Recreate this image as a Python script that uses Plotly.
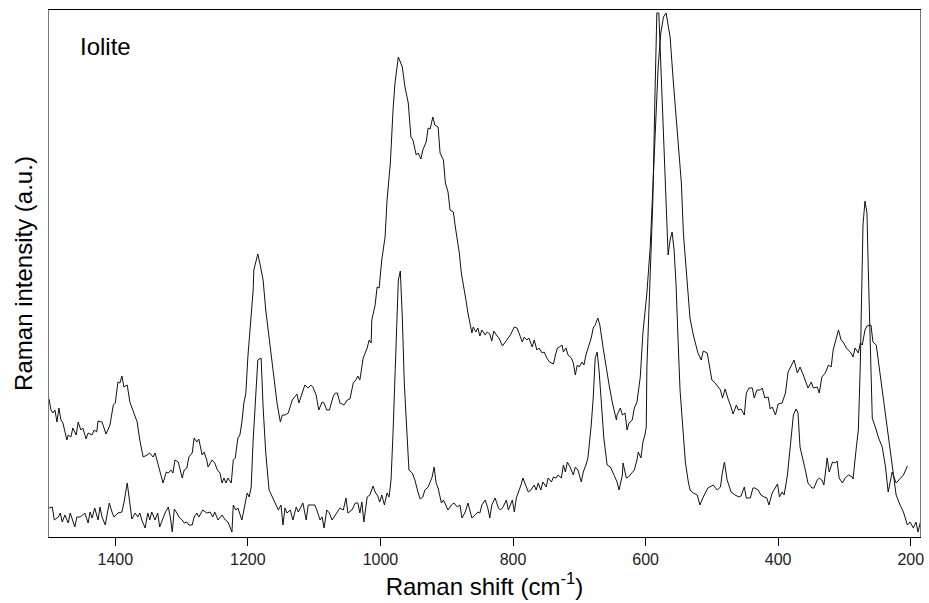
import plotly.graph_objects as go

# Raman shift (cm-1) and intensity (a.u.)
shift_upper = [1500, 1497, 1494, 1491, 1488, 1485, 1482, 1479, 1473, 1471, 1467, 1464, 1459, 1456, 1452,
               1449, 1444, 1441, 1435, 1432, 1428, 1426, 1420, 1414, 1408, 1403, 1400, 1396, 1393, 1390,
               1387, 1382, 1378, 1375, 1367, 1363, 1358, 1352, 1348, 1343, 1340, 1336, 1333, 1328, 1323,
               1320, 1316, 1313, 1310, 1305, 1299, 1296, 1292, 1289, 1284, 1281, 1277, 1274, 1269, 1266,
               1262, 1260, 1254, 1250, 1246, 1242, 1239, 1236, 1233, 1230, 1225, 1222, 1219, 1215, 1212,
               1209, 1206, 1203, 1200, 1197, 1192, 1191, 1188, 1185, 1182, 1177, 1173, 1168, 1163, 1159,
               1156, 1151, 1148, 1144, 1139, 1133, 1129, 1126, 1123, 1118, 1114, 1109, 1105, 1102, 1097,
               1093, 1088, 1085, 1081, 1077, 1071, 1068, 1065, 1061, 1055, 1050, 1046, 1041, 1037, 1034,
               1031, 1026, 1020, 1017, 1014, 1013, 1008, 1005, 1002, 998, 993, 990, 985, 981, 978,
               973, 970, 967, 963, 958, 954, 951, 946, 943, 939, 936, 931, 928, 925, 921,
               918, 913, 910, 905, 902, 898, 895, 890, 887, 884, 881, 878, 875, 871, 868,
               865, 862, 860, 856, 853, 850, 847, 842, 839, 835, 832, 829, 824, 821, 816,
               810, 804, 798, 794, 791, 786, 783, 779, 776, 771, 768, 764, 761, 756, 753,
               749, 745, 739, 736, 733, 730, 726, 724, 720, 717, 712, 709, 706, 703, 700,
               696, 693, 690, 687, 682, 679, 676, 672, 669, 664, 658, 655, 650, 644, 643,
               638, 635, 631, 628, 625, 620, 617, 613, 608, 604, 598, 593, 589, 584, 581,
               577, 573, 569, 563, 558, 552, 546, 543, 537, 533, 528, 524, 521, 516, 513,
               507, 504, 500, 495, 490, 487, 484, 480, 475, 472, 468, 463, 460, 456, 451,
               448, 444, 439, 436, 432, 427, 424, 420, 415, 412, 409, 404, 400, 394, 389,
               385, 379, 376, 371, 367, 362, 359, 355, 350, 347, 341, 338, 334, 329, 324,
               320, 317, 314, 309, 305, 302, 297, 294, 290, 287, 284, 279, 276, 273, 269,
               266, 260, 257, 252, 249, 245, 242, 237, 234, 229, 226, 222, 216, 211, 205,
               201, 196, 192, 189, 184]
int_upper = [138, 127, 124, 127, 115, 129, 117, 114, 97, 102, 100, 109, 102, 115, 107,
             109, 98, 104, 102, 107, 105, 116, 115, 103, 112, 132, 134, 155, 154, 161,
             150, 152, 135, 130, 115, 97, 80, 82, 84, 80, 84, 74, 67, 54, 65,
             64, 67, 64, 77, 75, 59, 67, 69, 80, 84, 99, 95, 98, 82, 85,
             77, 70, 77, 74, 67, 64, 54, 59, 54, 59, 54, 77, 79, 99, 102,
             115, 134, 144, 180, 204, 247, 267, 274, 283, 274, 257, 227, 200, 167, 147,
             134, 115, 122, 122, 124, 137, 140, 143, 134, 144, 152, 149, 152, 150, 142,
             127, 135, 134, 127, 127, 141, 144, 144, 134, 132, 137, 138, 154, 157, 161,
             157, 179, 189, 197, 194, 217, 232, 250, 249, 277, 300, 337, 374, 427, 454,
             480, 475, 470, 450, 434, 400, 397, 382, 384, 378, 387, 395, 409, 408, 420,
             412, 410, 384, 377, 354, 345, 327, 325, 310, 297, 284, 264, 254, 237, 224,
             215, 204, 210, 205, 209, 201, 207, 202, 205, 203, 196, 206, 201, 199, 191,
             197, 202, 210, 209, 204, 195, 200, 197, 199, 190, 197, 187, 189, 184, 185,
             179, 175, 173, 182, 189, 190, 192, 185, 189, 182, 179, 174, 162, 172, 170,
             175, 172, 182, 189, 199, 209, 212, 219, 212, 189, 162, 152, 134, 117, 122,
             129, 122, 124, 107, 114, 117, 129, 135, 160, 204, 244, 290, 350, 420, 470,
             504, 520, 524, 500, 454, 404, 354, 304, 254, 219, 202, 190, 184, 177, 186,
             184, 174, 157, 154, 149, 147, 139, 148, 137, 132, 123, 132, 127, 128, 122,
             144, 149, 149, 139, 147, 147, 149, 139, 140, 128, 130, 122, 133, 134, 144,
             165, 174, 177, 164, 170, 162, 157, 149, 155, 149, 150, 144, 160, 164, 172,
             170, 187, 194, 207, 197, 195, 189, 187, 184, 180, 189, 184, 194, 192, 207,
             211, 212, 195, 192, 177, 157, 142, 117, 97, 77, 59, 42, 32, 25, 12,
             15, 9, 15, 5, 19]

shift_lower = [1500, 1495, 1492, 1486, 1483, 1480, 1476, 1471, 1468, 1465, 1461, 1458, 1453, 1449, 1446,
               1441, 1438, 1435, 1431, 1426, 1423, 1420, 1415, 1412, 1409, 1405, 1402, 1396, 1390, 1387,
               1382, 1381, 1378, 1375, 1370, 1366, 1363, 1360, 1355, 1351, 1348, 1345, 1340, 1336, 1333,
               1329, 1325, 1320, 1317, 1314, 1311, 1307, 1304, 1299, 1296, 1292, 1289, 1284, 1281, 1277,
               1274, 1268, 1262, 1257, 1253, 1250, 1245, 1239, 1234, 1230, 1224, 1222, 1218, 1215, 1209,
               1206, 1201, 1198, 1195, 1192, 1188, 1185, 1180, 1177, 1173, 1168, 1163, 1159, 1154, 1150,
               1147, 1144, 1141, 1136, 1132, 1127, 1124, 1120, 1117, 1112, 1109, 1103, 1099, 1096, 1091,
               1088, 1085, 1081, 1077, 1073, 1070, 1065, 1061, 1056, 1052, 1049, 1043, 1038, 1034, 1031,
               1028, 1025, 1020, 1016, 1011, 1008, 1004, 1001, 998, 994, 990, 987, 984, 981, 978,
               975, 973, 970, 967, 964, 960, 957, 952, 948, 943, 940, 936, 933, 928, 922,
               919, 916, 913, 908, 905, 901, 898, 893, 889, 884, 880, 877, 872, 868, 865,
               862, 857, 853, 850, 847, 842, 838, 835, 832, 827, 822, 819, 815, 810, 807,
               801, 798, 795, 792, 788, 785, 780, 777, 773, 768, 765, 762, 758, 755, 750,
               747, 742, 739, 735, 732, 727, 724, 721, 718, 714, 709, 706, 702, 697, 694,
               690, 687, 682, 679, 676, 673, 670, 666, 663, 658, 653, 649, 643, 640, 635,
               634, 629, 626, 620, 617, 613, 611, 607, 604, 601, 599, 598, 593, 589, 586,
               583, 580, 577, 572, 566, 563, 560, 557, 554, 551, 548, 543, 540, 536, 533,
               528, 522, 518, 513, 506, 498, 492, 487, 484, 481, 477, 471, 465, 459, 456,
               451, 448, 442, 438, 435, 430, 426, 421, 417, 414, 409, 401, 398, 394, 391,
               386, 382, 379, 377, 373, 370, 367, 364, 359, 355, 349, 346, 341, 338, 334,
               331, 326, 323, 318, 314, 311, 308, 303, 299, 294, 288, 287, 282, 279, 276,
               273, 272, 269, 266, 264, 261, 258, 252, 249, 243, 238, 234, 228, 222, 216,
               211, 205]
int_lower = [29, 30, 17, 20, 24, 15, 22, 14, 24, 17, 10, 20, 20, 22, 24,
             14, 25, 19, 29, 17, 30, 20, 12, 24, 34, 25, 20, 24, 25, 34,
             54, 49, 34, 18, 24, 20, 24, 17, 9, 24, 17, 25, 17, 24, 10,
             17, 24, 30, 20, 5, 28, 24, 20, 17, 14, 15, 12, 12, 20, 24,
             20, 27, 24, 25, 20, 25, 17, 22, 17, 15, 5, 32, 27, 29, 17,
             27, 44, 40, 50, 97, 137, 177, 179, 130, 84, 47, 40, 34, 27, 32,
             12, 29, 24, 27, 17, 30, 25, 30, 34, 17, 32, 32, 32, 27, 17,
             20, 9, 27, 24, 17, 20, 24, 29, 27, 39, 24, 27, 34, 34, 24,
             35, 15, 40, 42, 51, 45, 41, 35, 42, 32, 44, 40, 57, 104, 170,
             237, 257, 266, 220, 154, 104, 67, 64, 57, 44, 38, 40, 47, 50, 60,
             70, 54, 49, 34, 37, 32, 27, 32, 34, 30, 32, 19, 25, 34, 25,
             19, 22, 25, 24, 32, 37, 29, 19, 32, 39, 29, 27, 30, 37, 27,
             37, 25, 39, 44, 52, 59, 49, 45, 47, 52, 47, 54, 47, 55, 50,
             59, 55, 60, 59, 62, 59, 72, 65, 75, 70, 62, 70, 67, 55, 65,
             72, 79, 112, 139, 179, 185, 165, 132, 99, 72, 70, 64, 55, 47, 62,
             74, 59, 60, 64, 67, 77, 85, 79, 95, 102, 110, 170, 254, 337, 437,
             524, 524, 470, 377, 282, 297, 305, 287, 252, 197, 147, 102, 75, 57, 47,
             44, 42, 32, 40, 49, 52, 47, 50, 65, 75, 57, 45, 42, 40, 41,
             50, 39, 39, 49, 49, 47, 42, 40, 39, 32, 44, 53, 40, 45, 42,
             62, 92, 109, 122, 128, 124, 90, 80, 67, 54, 49, 49, 57, 59, 57,
             52, 79, 65, 75, 74, 76, 59, 54, 59, 62, 60, 58, 90, 107, 174,
             257, 312, 336, 324, 267, 197, 119, 107, 100, 90, 70, 45, 65, 54, 58,
             62, 71]

x_ticks = [1400, 1200, 1000, 800, 600, 400, 200]
sample_name = "Iolite"

fig = go.Figure()
for xs, ys in [(shift_upper, int_upper), (shift_lower, int_lower)]:
    fig.add_trace(go.Scatter(x=xs, y=ys, mode="lines", hoverinfo="skip",
                             line=dict(color="#111111", width=1), showlegend=False))

fig.add_annotation(text=sample_name, xref="paper", yref="paper", x=0.033, y=0.93,
                   xanchor="left", yanchor="middle", showarrow=False,
                   font=dict(size=24, color="black"))

fig.update_layout(
    width=929, height=603,
    margin=dict(l=49, r=9, t=10, b=66),
    paper_bgcolor="white", plot_bgcolor="white",
    font=dict(family="Liberation Sans, Arial, sans-serif", color="black"),
)
fig.update_xaxes(range=[1500, 186], tickvals=x_ticks, ticks="outside", ticklen=8,
                 tickcolor="black", showgrid=False, zeroline=False, automargin=False,
                 showline=True, linecolor="black", linewidth=1, mirror=True,
                 tickfont=dict(size=16, color="#222222"),
                 title=dict(text="Raman shift (cm<sup>-1</sup>)", font=dict(size=24), standoff=10))
fig.update_yaxes(range=[0, 527], showticklabels=False, ticks="", showgrid=False, zeroline=False,
                 automargin=False,
                 showline=True, linecolor="#777777", linewidth=1, mirror=True,
                 title=dict(text="Raman intensity (a.u.)", font=dict(size=24), standoff=8))

# the page has a default 8px body margin; drop it so the figure sits at 0,0
fig.write_html("out.html", config={"displayModeBar": False},
               post_script="document.body.style.margin='0';")
